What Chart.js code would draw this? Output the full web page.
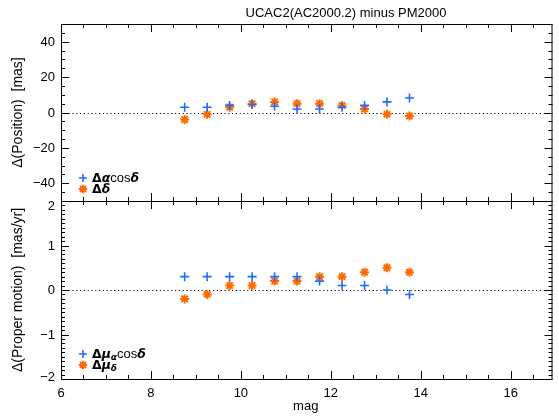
<!DOCTYPE html>
<html>
<head>
<meta charset="utf-8">
<script src="https://cdn.jsdelivr.net/npm/chart.js@4.4.0/dist/chart.umd.min.js"></script>
<style>
  html, body { margin: 0; padding: 0; background: #fff; }
  #wrap { position: relative; width: 559px; height: 417px; }
  canvas { position: absolute; left: 0; top: 0; }
</style>
</head>
<body>
<div id="wrap">
  <canvas id="posChart" width="559" height="417"></canvas>
  <canvas id="pmChart" width="559" height="417"></canvas>
</div>
<script>
// magnitude bins
const mags = [8.75, 9.25, 9.75, 10.25, 10.75, 11.25, 11.75, 12.25, 12.75, 13.25, 13.75];

// position differences [mas]
const posRA  = [3, 3, 4, 4.5, 3.5, 2, 2, 3, 4, 6, 8.2];
const posDec = [-4, -1, 3, 5, 6, 5, 5, 4, 2, -1, -2];

// proper motion differences [mas/yr]
const pmRA  = [0.3, 0.3, 0.3, 0.3, 0.3, 0.3, 0.2, 0.1, 0.1, 0.0, -0.1];
const pmDec = [-0.2, -0.1, 0.1, 0.1, 0.2, 0.2, 0.3, 0.3, 0.4, 0.5, 0.4];

const xTicks = [6, 8, 10, 12, 14, 16];
const posTicks = [-40, -20, 0, 20, 40];
const pmTicks = [-2, -1, 0, 1, 2];

const BLUE = '#1f6bff';
const ORANGE = '#ff6a00';
const FONT = '"Liberation Sans", Arial, sans-serif';
const XMIN = 6, XMAX = 16.93;

function pts(ys) {
  return mags.map((m, i) => ({ x: m, y: ys[i] }));
}

function fmt(v) {
  return v < 0 ? '\u2212' + Math.abs(v) : String(v);
}

function drawSym(ctx, type, cx, cy) {
  ctx.save();
  if (type === 'cross') {
    ctx.strokeStyle = BLUE; ctx.lineWidth = 1.6;
    ctx.beginPath();
    ctx.moveTo(cx - 4, cy); ctx.lineTo(cx + 4, cy);
    ctx.moveTo(cx, cy - 4); ctx.lineTo(cx, cy + 4);
    ctx.stroke();
  } else {
    ctx.strokeStyle = ORANGE; ctx.lineWidth = 2;
    const r = 4.2, d = r * 0.7071;
    ctx.beginPath();
    ctx.moveTo(cx - r, cy); ctx.lineTo(cx + r, cy);
    ctx.moveTo(cx, cy - r); ctx.lineTo(cx, cy + r);
    ctx.moveTo(cx - d, cy - d); ctx.lineTo(cx + d, cy + d);
    ctx.moveTo(cx - d, cy + d); ctx.lineTo(cx + d, cy - d);
    ctx.stroke();
  }
  ctx.restore();
}

// draw a run of text pieces with their own fonts, returns end x
function richText(ctx, parts, x, y) {
  ctx.textAlign = 'left';
  ctx.textBaseline = 'alphabetic';
  for (const p of parts) {
    ctx.font = p.font;
    ctx.fillText(p.t, x, y + (p.dy || 0));
    x += ctx.measureText(p.t).width;
  }
  return x;
}

const B = 'bold 12.5px "DejaVu Sans", sans-serif';
const BI = 'bold italic 12.5px "DejaVu Sans", sans-serif';
const R = '13px ' + FONT;
const SUB = 'bold italic 9px "DejaVu Sans", sans-serif';

function framePlugin(cfg) {
  return {
    id: 'frame_' + cfg.id,
    beforeDatasetsDraw(chart) {
      const { ctx, chartArea: a, scales: { y } } = chart;
      ctx.save();
      ctx.strokeStyle = '#000';
      ctx.lineWidth = 1;
      ctx.setLineDash([1.2, 2.6]);
      const y0 = Math.round(y.getPixelForValue(0)) + 0.5;
      ctx.beginPath();
      ctx.moveTo(a.left, y0); ctx.lineTo(a.right, y0);
      ctx.stroke();
      ctx.restore();
    },
    afterDraw(chart) {
      const { ctx, chartArea: a, scales: { x, y } } = chart;
      ctx.save();
      ctx.strokeStyle = '#000';
      ctx.fillStyle = '#000';
      ctx.lineWidth = 1;
      ctx.strokeRect(a.left + 0.5, a.top + 0.5, a.right - a.left - 1, a.bottom - a.top);

      ctx.beginPath();
      // x ticks, bottom and top, inward
      for (let v = XMIN; v <= XMAX + 1e-6; v += 0.5) {
        const major = Math.abs(v / 2 - Math.round(v / 2)) < 1e-6;
        const len = major ? 8 : 4;
        const px = Math.round(x.getPixelForValue(v)) + 0.5;
        ctx.moveTo(px, a.bottom); ctx.lineTo(px, a.bottom - len);
        ctx.moveTo(px, a.top); ctx.lineTo(px, a.top + len);
      }
      // y ticks, left and right
      const n = Math.round((cfg.ymax - cfg.ymin) / cfg.minor);
      for (let i = 0; i <= n; i++) {
        const v = cfg.ymin + i * cfg.minor;
        const major = cfg.yTicks.some(t => Math.abs(t - v) < 1e-6);
        const len = major ? 8 : 4;
        const py = Math.round(y.getPixelForValue(v)) + 0.5;
        ctx.moveTo(a.left, py); ctx.lineTo(a.left + len, py);
        ctx.moveTo(a.right, py); ctx.lineTo(a.right - len, py);
      }
      ctx.stroke();

      // y tick labels
      ctx.font = '13px ' + FONT;
      ctx.textAlign = 'right';
      ctx.textBaseline = 'middle';
      for (const t of cfg.yTicks) {
        let py = y.getPixelForValue(t);
        py = Math.max(a.top + 5, Math.min(a.bottom - 2, py));
        ctx.fillText(fmt(t), a.left - 6, py + 0.5);
      }

      // x tick labels + title only on lower panel
      if (cfg.xLabels) {
        ctx.textAlign = 'center';
        for (const t of xTicks) {
          ctx.fillText(String(t), x.getPixelForValue(t), 393);
        }
        ctx.fillText('mag', (a.left + a.right) / 2 - 1, 406);
      }
      if (cfg.title) {
        ctx.textAlign = 'center';
        ctx.textBaseline = 'alphabetic';
        ctx.fillText(cfg.title, 346, 17);
      }

      // y axis title
      ctx.save();
      ctx.translate(18, (a.top + a.bottom) / 2);
      ctx.rotate(-Math.PI / 2);
      ctx.textAlign = 'center';
      ctx.textBaseline = 'middle';
      ctx.font = '14px ' + FONT;
      ctx.fillText(cfg.yTitle, 0, 0);
      ctx.restore();

      // legend
      drawSym(ctx, 'cross', 83, cfg.legY[0]);
      drawSym(ctx, 'star', 83, cfg.legY[1]);
      ctx.fillStyle = '#000';
      richText(ctx, cfg.leg1, 92, cfg.legY[0] + 4);
      richText(ctx, cfg.leg2, 92, cfg.legY[1] + 4);
      ctx.restore();
    }
  };
}

function makeChart(id, dsA, dsB, ymin, ymax, top, bottom, cfg) {
  return new Chart(document.getElementById(id), {
    type: 'scatter',
    data: {
      datasets: [{
        data: pts(dsA),
        pointStyle: 'cross',
        pointRadius: 4.5,
        borderWidth: 1.6,
        borderColor: BLUE,
        backgroundColor: BLUE
      }, {
        data: pts(dsB),
        pointStyle: 'star',
        pointRadius: 4.5,
        borderWidth: 2,
        borderColor: ORANGE,
        backgroundColor: ORANGE
      }]
    },
    options: {
      responsive: false,
      animation: false,
      devicePixelRatio: 1,
      layout: { padding: { left: 61, right: 2, top: top, bottom: 417 - bottom } },
      plugins: { legend: { display: false }, tooltip: { enabled: false } },
      scales: {
        x: { type: 'linear', display: false, min: XMIN, max: XMAX },
        y: { type: 'linear', display: false, min: ymin, max: ymax }
      }
    },
    plugins: [framePlugin(Object.assign({ ymin, ymax }, cfg))]
  });
}

const posChart = makeChart('posChart', posRA, posDec, -50, 50, 24, 201, {
  id: 'pos',
  yTicks: posTicks,
  minor: 5,
  xLabels: false,
  title: 'UCAC2(AC2000.2) minus PM2000',
  yTitle: '\u0394(Position)  [mas]',
  legY: [178, 189],
  leg1: [{ t: '\u0394', font: B }, { t: '\u03b1', font: BI }, { t: 'cos', font: R }, { t: '\u03b4', font: BI }],
  leg2: [{ t: '\u0394', font: B }, { t: '\u03b4', font: BI }]
});

const pmChart = makeChart('pmChart', pmRA, pmDec, -2, 2, 201, 379, {
  id: 'pm',
  yTicks: pmTicks,
  minor: 0.1,
  xLabels: true,
  title: null,
  yTitle: '\u0394(Proper motion)  [mas/yr]',
  legY: [354, 365],
  leg1: [{ t: '\u0394', font: B }, { t: '\u03bc', font: BI }, { t: '\u03b1', font: SUB, dy: 2 }, { t: 'cos', font: R }, { t: '\u03b4', font: BI }],
  leg2: [{ t: '\u0394', font: B }, { t: '\u03bc', font: BI }, { t: '\u03b4', font: SUB, dy: 2 }]
});
</script>
</body>
</html>
